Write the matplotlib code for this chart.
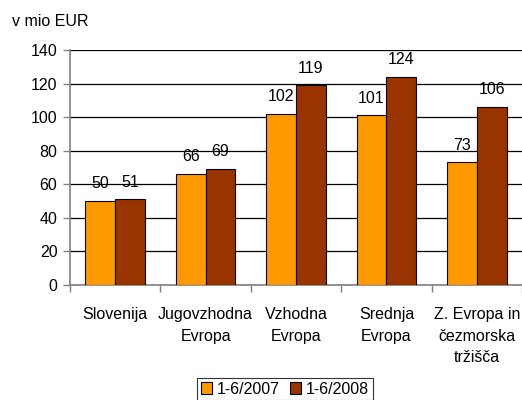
import matplotlib
matplotlib.use("Agg")
import matplotlib.pyplot as plt
import numpy as np

categories = ["Slovenija", "Jugovzhodna\nEvropa", "Vzhodna\nEvropa", "Srednja\nEvropa", "Z. Evropa in\nčezmorska\ntržišča"]
series_names = ["1-6/2007", "1-6/2008"]
values_2007 = [50, 66, 102, 101, 73]
values_2008 = [51, 69, 119, 124, 106]
yticks = [0, 20, 40, 60, 80, 100, 120, 140]

plt.rcParams['font.family'] = ['Liberation Sans', 'DejaVu Sans']
fs = 11.5

fig = plt.figure(figsize=(5.22, 4.0), dpi=100)
ax = fig.add_axes([70/522, 1-285/400, 1-70/522, 235/400])

x = np.arange(len(categories))
w = 0.33
colors = ["#FF9900", "#993300"]
b1 = ax.bar(x - w/2, values_2007, w, color=colors[0], edgecolor="black", linewidth=0.8, label=series_names[0], zorder=3)
b2 = ax.bar(x + w/2, values_2008, w, color=colors[1], edgecolor="black", linewidth=0.8, label=series_names[1], zorder=3)

for bars, vals in ((b1, values_2007), (b2, values_2008)):
    for r, v in zip(bars, vals):
        ax.annotate(str(v), (r.get_x() + r.get_width()/2, r.get_height()),
                    xytext=(0, 7), textcoords="offset points", ha="center", va="bottom", fontsize=fs)

ax.set_ylim(0, 140)
ax.set_xlim(-0.5, len(categories) - 0.5)
ax.set_yticks(yticks)
ax.set_yticklabels([str(t) for t in yticks], fontsize=fs)
ax.yaxis.grid(True, color="black", linewidth=0.9, zorder=0)
ax.set_axisbelow(True)

ax.set_xticks(np.arange(len(categories) + 1) - 0.5)
ax.set_xticklabels([])
ax.set_xticks(x, minor=True)
ax.set_xticklabels(categories, minor=True, fontsize=fs, linespacing=1.55)
ax.tick_params(axis="x", which="minor", length=0, pad=16)
ax.tick_params(axis="x", which="major", length=5, color="#808080", width=1)
ax.tick_params(axis="y", length=5, color="#808080", width=1, pad=4)

for s in ["top", "right"]:
    ax.spines[s].set_visible(False)
for s in ["left", "bottom"]:
    ax.spines[s].set_color("#808080")
    ax.spines[s].set_linewidth(1.2)

fig.text(12/522, 1-22/400, "v mio EUR", fontsize=fs, ha="left", va="center")

leg = fig.legend(handles=[b1, b2], labels=series_names, loc="center", bbox_to_anchor=(285/522, 1-389/400),
                 ncol=2, fontsize=fs, frameon=True, fancybox=False, edgecolor="black",
                 handlelength=0.7, handleheight=0.7, handletextpad=0.3, columnspacing=0.6,
                 borderpad=0.25)
leg.get_frame().set_linewidth(0.8)

fig.savefig("out.png", dpi=100)
